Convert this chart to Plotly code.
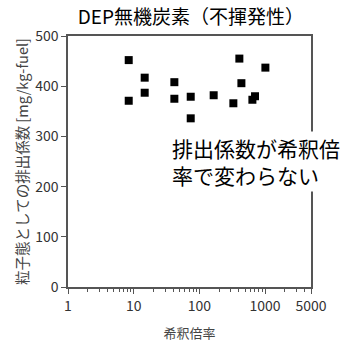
import plotly.graph_objects as go

dilution = [8.4, 8.4, 14.7, 14.7, 41.6, 41.6, 73.8, 73.8, 165, 329, 406, 436, 641, 703, 1011]
emission = [452, 371, 417, 387, 408, 375, 379, 336, 382, 366, 455, 406, 373, 380, 437]

x_tickvals = [1, 10, 100, 1000, 5000]
x_ticktext = ["1", "10", "100", "1000", "5000"]
y_tickvals = [0, 100, 200, 300, 400, 500]

FONT = "Noto Sans CJK JP"
AX = "#555555"

fig = go.Figure()
fig.add_trace(go.Scatter(
    x=dilution, y=emission, mode="markers",
    marker=dict(symbol="square", size=8, color="black"),
    showlegend=False,
))

fig.update_layout(
    width=342, height=351,
    margin=dict(l=68, r=31, t=36, b=54),
    paper_bgcolor="white", plot_bgcolor="white",
    font=dict(family=FONT, color="#333333"),
    title=dict(text="DEP無機炭素（不揮発性）", x=0.558, xanchor="center",
               y=0.95, yanchor="middle", font=dict(size=19, color="black", family=FONT)),
    xaxis=dict(
        type="log", range=[0, 3.699],
        tickvals=x_tickvals, ticktext=x_ticktext,
        ticks="outside", ticklen=5, tickcolor=AX, tickwidth=1,
        minor=dict(ticks="outside", ticklen=3, tickcolor=AX, dtick="D1", showgrid=False),
        showline=True, linecolor=AX, linewidth=1.5, mirror=True,
        showgrid=False, zeroline=False,
        tickfont=dict(size=14, color="#333333"),
        title=dict(text="希釈倍率", font=dict(size=13, color="#444444"), standoff=15),
    ),
    yaxis=dict(
        range=[0, 500], tickvals=y_tickvals,
        ticks="outside", ticklen=5, tickcolor=AX, tickwidth=1,
        showline=True, linecolor=AX, linewidth=1.5, mirror=True,
        showgrid=False, zeroline=False,
        tickfont=dict(size=14, color="#333333"),
        title=dict(text="粒子態としての排出係数 [mg/kg-fuel]", font=dict(size=14.5, color="#444444"), standoff=3),
    ),
)

fig.add_annotation(
    xref="paper", yref="paper", x=0.42, y=0.5, xanchor="left", yanchor="middle",
    text="排出係数が希釈倍<br>率で変わらない", showarrow=False, align="left",
    font=dict(size=21, color="black", family=FONT),
    bgcolor="white", borderpad=1,
)

fig.write_html("out.html", config={"displayModeBar": False},
               post_script="document.body.style.margin='0';")
